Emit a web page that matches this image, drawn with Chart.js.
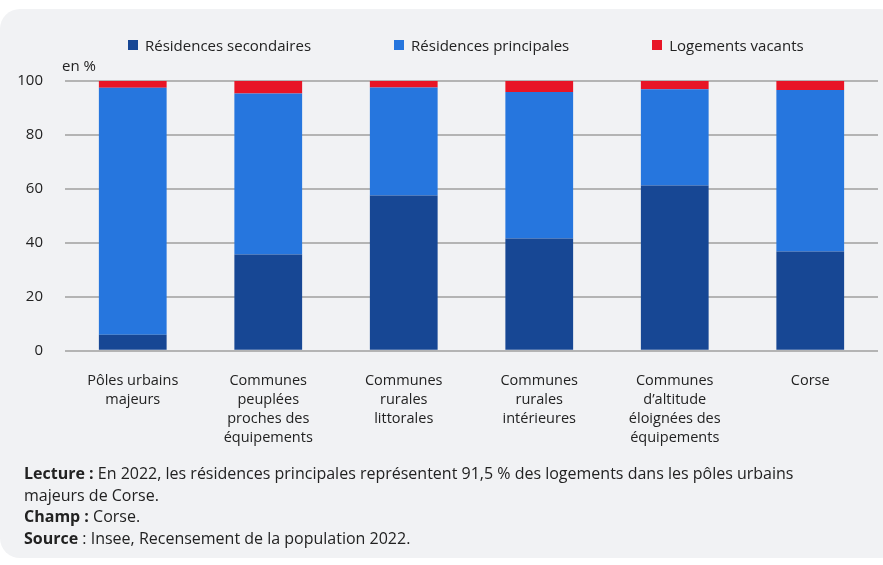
<!DOCTYPE html>
<html lang="fr">
<head>
<meta charset="utf-8">
<script src="https://cdn.jsdelivr.net/npm/chart.js@4"></script>
<style>
  body { margin: 0; background: #fff; font-family: "Open Sans", sans-serif; color: #222; }
  #panel { position: absolute; left: 0; top: 9px; width: 900px; height: 549px; background: #f1f2f4; border-radius: 20px; }
  #chartBox { position: absolute; left: 0; top: 9px; width: 883px; height: 460px; }
  #legend { position: absolute; left: 128px; top: 35px; display: flex; font-size: 15px; line-height: 20px; }
  #legend .item { display: flex; align-items: center; margin-right: 83px; }
  #legend .item:last-child { margin-right: 0; }
  #legend .box { width: 10px; height: 10px; margin-right: 7px; }
  #note { position: absolute; left: 24px; top: 463px; width: 800px; font-size: 16px; line-height: 21.5px; }
</style>
</head>
<body>
<div id="panel"></div>
<div id="chartBox"><canvas id="myBarChart"></canvas></div>
<div id="legend"></div>
<div id="note">
  <b>Lecture :</b> En 2022, les résidences principales représentent 91,5 % des logements dans les pôles urbains majeurs de Corse.<br>
  <b>Champ :</b> Corse.<br>
  <b>Source</b> : Insee, Recensement de la population 2022.
</div>
<script>
// catégories (axe x)
const categories = [
  ['Pôles urbains', 'majeurs'],
  ['Communes', 'peuplées', 'proches des', 'équipements'],
  ['Communes', 'rurales', 'littorales'],
  ['Communes', 'rurales', 'intérieures'],
  ['Communes', 'd’altitude', 'éloignées des', 'équipements'],
  ['Corse']
];

// séries
const seriesNames = ['Résidences secondaires', 'Résidences principales', 'Logements vacants'];
const secondaires = [6.0, 35.7, 57.6, 41.6, 61.3, 36.8];
const principales = [91.5, 59.7, 40.0, 54.3, 35.6, 59.9];
const vacants = [2.5, 4.6, 2.4, 4.1, 3.1, 3.3];
const seriesColors = ['#174794', '#2676de', '#e81526'];

// ticks de l'axe y
const yTicks = [0, 20, 40, 60, 80, 100];

const barData = {
  labels: categories,
  datasets: [secondaires, principales, vacants].map((d, i) => ({
    label: seriesNames[i],
    data: d,
    backgroundColor: seriesColors[i],
    barPercentage: 0.5,
    categoryPercentage: 1
  }))
};

// légende en HTML
const legendEl = document.getElementById('legend');
seriesNames.forEach((name, i) => {
  const item = document.createElement('div');
  item.className = 'item';
  item.innerHTML = '<span class="box" style="background:' + seriesColors[i] + '"></span>' + name;
  legendEl.appendChild(item);
});

// texte "en %"
const unitLabel = {
  id: 'unitLabel',
  afterDraw(chart) {
    const c = chart.ctx;
    c.save();
    c.font = '15px "Open Sans"';
    c.fillStyle = '#222';
    c.textAlign = 'left';
    c.textBaseline = 'middle';
    c.fillText('en %', chart.chartArea.left - 3, chart.chartArea.top - 14);
    c.restore();
  }
};

const ctx = document.getElementById('myBarChart').getContext('2d');
const myBarChart = new Chart(ctx, {
  type: 'bar',
  data: barData,
  options: {
    maintainAspectRatio: false,
    responsive: true,
    animation: false,
    layout: { padding: { top: 72, right: 5, bottom: 9, left: 0 } },
    plugins: { legend: { display: false }, tooltip: { enabled: false } },
    scales: {
      x: {
        stacked: true,
        grid: { display: false },
        border: { display: false },
        ticks: { color: '#222', padding: 12, maxRotation: 0, font: { family: 'Open Sans', size: 14.5, lineHeight: 1.33 } }
      },
      y: {
        stacked: true,
        min: 0,
        max: 100,
        afterFit: (scale) => { scale.width = 65; },
        afterBuildTicks: (scale) => { scale.ticks = yTicks.map(v => ({ value: v })); },
        grid: { color: '#b4b4b4', lineWidth: 2, drawTicks: false },
        border: { display: false },
        ticks: { color: '#222', padding: 22, font: { family: 'Open Sans', size: 15 } }
      }
    }
  },
  plugins: [unitLabel]
});
</script>
</body>
</html>
